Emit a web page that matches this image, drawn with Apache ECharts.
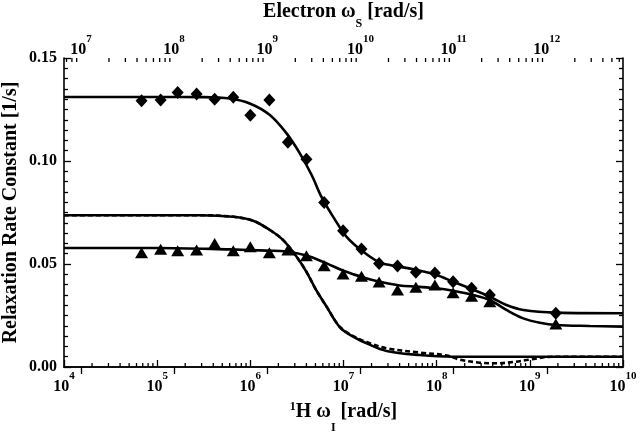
<!DOCTYPE html>
<html>
<head>
<meta charset="utf-8">
<script src="https://cdn.jsdelivr.net/npm/echarts@6/dist/echarts.min.js"></script>
<style>
html,body{margin:0;padding:0;background:#fff;}
#chart{width:640px;height:433px;}
</style>
</head>
<body>
<div id="chart"></div>
<script>
// ---- data ----
var markerX = [6.8e4, 1.09e5, 1.66e5, 2.65e5, 4.14e5, 6.56e5, 1.0e6, 1.6e6, 2.53e6, 4.0e6, 6.2e6, 9.9e6, 1.56e7, 2.41e7, 3.8e7, 5.98e7, 9.57e7, 1.5e8, 2.37e8, 3.72e8, 1.9e9];
var diamondY = [0.1293, 0.1296, 0.1332, 0.1325, 0.1300, 0.1309, 0.1222, 0.1296, 0.1091, 0.1008, 0.0798, 0.0662, 0.0573, 0.0503, 0.0490, 0.0460, 0.0456, 0.0414, 0.0382, 0.0350, 0.0261];
var triangleY = [0.0555, 0.0571, 0.0564, 0.0568, 0.0600, 0.0564, 0.0584, 0.0555, 0.0568, 0.0540, 0.0491, 0.0451, 0.0441, 0.0413, 0.0374, 0.0387, 0.0398, 0.0360, 0.0344, 0.0317, 0.0209];

var diamondFitX = [1e4, 1e5, 3e5, 6.0e5, 1.0e6, 1.62e6, 2.45e6, 3.4e6, 4.55e6, 5.8e6, 7.75e6, 1.08e7, 1.63e7, 2.46e7, 3.15e7, 6.1e7, 1.0e8, 1.5e8, 2.27e8, 3.72e8, 5.6e8, 8.5e8, 1.93e9, 1e10];
var diamondFitY = [0.1311, 0.1311, 0.1310, 0.1303, 0.1278, 0.1223, 0.1134, 0.1037, 0.0932, 0.0826, 0.0729, 0.0632, 0.0559, 0.0506, 0.0495, 0.0471, 0.0447, 0.0414, 0.0382, 0.0341, 0.0301, 0.0277, 0.0264, 0.0261];

var triangleFitX = [1e4, 1e5, 6.0e5, 1.5e6, 2.45e6, 4.0e6, 6.6e6, 1.0e7, 1.63e7, 2.46e7, 4.0e7, 6.1e7, 1.0e8, 1.5e8, 2.46e8, 3.72e8, 5.6e8, 8.5e8, 1.28e9, 1.93e9, 4.4e9, 1e10];
var triangleFitY = [0.0578, 0.0578, 0.0571, 0.0565, 0.0561, 0.0541, 0.0503, 0.0467, 0.0435, 0.0414, 0.0396, 0.0390, 0.0382, 0.0370, 0.0350, 0.0325, 0.0277, 0.0236, 0.0215, 0.0204, 0.0199, 0.0196];

var solidFitX = [1e4, 2.9e5, 6.6e5, 1.07e6, 1.62e6, 2.25e6, 3.14e6, 4.0e6, 5.1e6, 6.6e6, 9.1e6, 1.27e7, 1.77e7, 2.9e7, 6.6e7, 1.5e8, 1e10];
var solidFitY = [0.0737, 0.0737, 0.0729, 0.0710, 0.0665, 0.0616, 0.0535, 0.0462, 0.0373, 0.0292, 0.0194, 0.0147, 0.0115, 0.0078, 0.0058, 0.0050, 0.0050];

var dashedFitX = [1e4, 2.9e5, 6.6e5, 1.07e6, 1.62e6, 2.25e6, 3.14e6, 4.0e6, 5.1e6, 6.6e6, 9.1e6, 1.27e7, 1.77e7, 2.9e7, 6.6e7, 1.28e8, 1.77e8, 2.9e8, 4.4e8, 6.6e8, 1.0e9, 1.78e9, 1e10];
var dashedFitY = [0.0737, 0.0737, 0.0729, 0.0710, 0.0665, 0.0616, 0.0535, 0.0462, 0.0373, 0.0292, 0.0196, 0.0150, 0.0121, 0.0091, 0.0070, 0.0056, 0.0036, 0.0021, 0.0018, 0.0024, 0.0036, 0.0050, 0.0050];

// axes
var protonMin = 1e4, protonMax = 1e10;
var gammaRatio = 658; // electron / proton frequency ratio
var yMin = 0, yMax = 0.15, yStep = 0.05;

// ---- helpers ----
function pairs(xs, ys) { return xs.map(function (x, i) { return [x, ys[i]]; }); }
function minorTicks(lo, hi) {
  var out = [];
  for (var n = Math.floor(Math.log10(lo)); n <= Math.ceil(Math.log10(hi)); n++) {
    for (var k = 2; k <= 9; k++) {
      var v = k * Math.pow(10, n);
      if (v > lo && v < hi) out.push(v);
    }
  }
  return out;
}
var FONT = 'Liberation Serif';
function powLabel(v) {
  var l = Math.log10(v), n = Math.round(l);
  if (Math.abs(l - n) > 1e-6) return '';
  return '{b|10}{s|' + n + '}';
}
var tickRich = {
  b: { fontFamily: FONT, fontWeight: 'bold', fontSize: 16, lineHeight: 16, color: '#000' },
  s: { fontFamily: FONT, fontWeight: 'bold', fontSize: 11, lineHeight: 12, padding: [0, 0, 22, 0], color: '#000' }
};
var nameB = { fontFamily: FONT, fontWeight: 'bold', fontSize: 20, lineHeight: 20, color: '#000' };

var topMin = protonMin * gammaRatio, topMax = protonMax * gammaRatio;

function tickSeries(axisIdx, values, yVal, dir) {
  return {
    type: 'custom', xAxisIndex: axisIdx, yAxisIndex: 0, silent: true, z: 5,
    data: values.map(function (v) { return [v, yVal]; }),
    renderItem: function (params, api) {
      var p = api.coord([api.value(0), api.value(1)]);
      return { type: 'line', shape: { x1: p[0], y1: p[1], x2: p[0], y2: p[1] + dir * 4 },
        style: { stroke: '#000', lineWidth: 1.3 } };
    }
  };
}

var chart = echarts.init(document.getElementById('chart'));
var axisLine = { show: true, lineStyle: { color: '#000', width: 1.6 } };
chart.setOption({
  backgroundColor: '#fff',
  animation: false,
  grid: { left: 64, right: 17, top: 58, bottom: 66, containLabel: false, outerBoundsMode: 'none' },
  xAxis: [{
    type: 'log', logBase: 10, min: protonMin, max: protonMax, interval: 1, position: 'bottom',
    axisLine: axisLine, splitLine: { show: false },
    axisTick: { show: true, inside: true, length: 7, lineStyle: { color: '#000', width: 1.3 } },
    axisLabel: { formatter: powLabel, rich: tickRich, margin: 12, showMinLabel: true, showMaxLabel: true, hideOverlap: false },
    name: '{sup|1}{b|H ω}{sub|I}{b| [rad/s]}', nameLocation: 'middle', nameGap: 35, nameMoveOverlap: false,
    nameTextStyle: { rich: {
      b: nameB,
      sup: { fontFamily: FONT, fontWeight: 'bold', fontSize: 12, lineHeight: 12, padding: [0, 0, 10, 0], color: '#000' },
      sub: { fontFamily: FONT, fontWeight: 'bold', fontSize: 12, lineHeight: 12, padding: [32, 0, 0, 0], color: '#000' }
    } }
  }, {
    type: 'log', logBase: 10, min: topMin, max: topMax, splitNumber: 6, position: 'top',
    axisLine: axisLine, splitLine: { show: false },
    axisTick: { show: true, inside: true, length: 7, lineStyle: { color: '#000', width: 1.3 } },
    axisLabel: { formatter: powLabel, rich: tickRich, margin: 0, showMinLabel: false, showMaxLabel: false, hideOverlap: false },
    name: '{b|Electron ω}{sub|S}{b| [rad/s]}', nameLocation: 'middle', nameGap: 36, nameMoveOverlap: false,
    nameTextStyle: { rich: {
      b: nameB,
      sub: { fontFamily: FONT, fontWeight: 'bold', fontSize: 12, lineHeight: 12, padding: [24, 0, 0, 0], color: '#000' }
    } }
  }],
  yAxis: [{
    type: 'value', min: yMin, max: yMax, interval: yStep, position: 'left',
    axisLine: axisLine, splitLine: { show: false },
    axisTick: { show: true, inside: true, length: 7, lineStyle: { color: '#000', width: 1.3 } },
    minorTick: { show: true, splitNumber: 10, length: 4, lineStyle: { color: '#000', width: 1.3 } },
    axisLabel: { formatter: function (v) { return v.toFixed(2); }, fontFamily: FONT, fontWeight: 'bold', fontSize: 16, color: '#000', margin: 7 },
    name: 'Relaxation Rate Constant [1/s]', nameLocation: 'middle', nameRotate: 90, nameGap: 43, nameMoveOverlap: false,
    nameTextStyle: { fontFamily: FONT, fontWeight: 'bold', fontSize: 20, color: '#000' }
  }, {
    type: 'value', min: yMin, max: yMax, interval: yStep, position: 'right',
    axisLine: axisLine, splitLine: { show: false },
    axisTick: { show: true, inside: true, length: 7, lineStyle: { color: '#000', width: 1.3 } },
    minorTick: { show: true, splitNumber: 10, length: 4, lineStyle: { color: '#000', width: 1.3 } },
    axisLabel: { show: false }
  }],
  series: [
    tickSeries(0, minorTicks(protonMin, protonMax), yMin, -1),
    tickSeries(1, minorTicks(topMin, topMax), yMax, 1),
    { type: 'line', name: 'solid fit', data: pairs(solidFitX, solidFitY), showSymbol: false, smooth: 0.35,
      lineStyle: { color: '#000', width: 2.6 }, z: 3 },
    { type: 'line', name: 'dashed fit', data: pairs(dashedFitX, dashedFitY), showSymbol: false, smooth: 0.35,
      lineStyle: { color: '#000', width: 2.6, type: [5, 3] }, z: 4 },
    { type: 'line', name: 'diamond fit', data: pairs(diamondFitX, diamondFitY), showSymbol: false, smooth: 0.35,
      lineStyle: { color: '#000', width: 2.6 }, z: 3 },
    { type: 'line', name: 'triangle fit', data: pairs(triangleFitX, triangleFitY), showSymbol: false, smooth: 0.35,
      lineStyle: { color: '#000', width: 2.6 }, z: 3 },
    { type: 'scatter', name: 'diamonds', data: pairs(markerX, diamondY), symbol: 'diamond', symbolSize: [12, 13],
      itemStyle: { color: '#000', opacity: 1 }, z: 6 },
    { type: 'scatter', name: 'triangles', data: pairs(markerX, triangleY), symbol: 'triangle', symbolSize: [13, 11],
      itemStyle: { color: '#000', opacity: 1 }, z: 6 }
  ]
});
</script>
</body>
</html>
